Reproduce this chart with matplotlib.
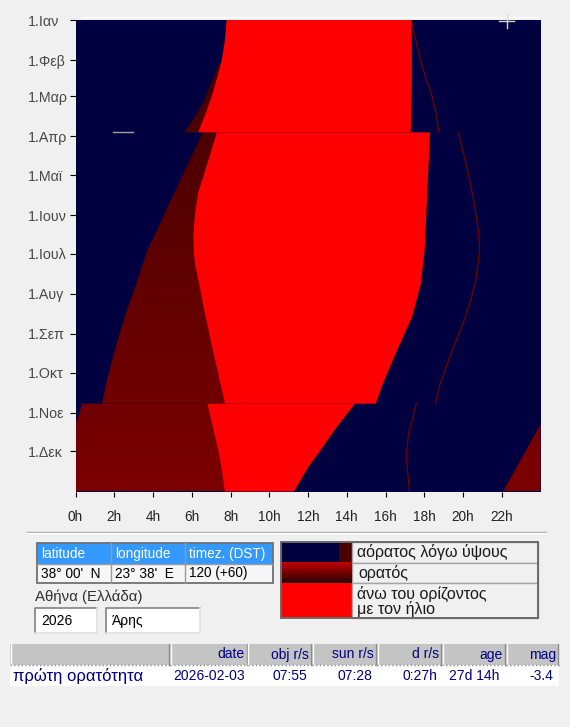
import numpy as np
import matplotlib
matplotlib.use("Agg")
from matplotlib import pyplot as plt
from matplotlib.patches import Polygon, Rectangle
from matplotlib.colors import LinearSegmentedColormap

# %%
# data : day of year 2026 (0 = 1 Jan) and local clock hour
month_days = [0, 31, 59, 90, 120, 151, 181, 212, 243, 273, 304, 334]
month_labels = ["1.Ιαν", "1.Φεβ", "1.Μαρ", "1.Απρ", "1.Μαϊ", "1.Ιουν",
                "1.Ιουλ", "1.Αυγ", "1.Σεπ", "1.Οκτ", "1.Νοε", "1.Δεκ"]
hour_ticks = list(range(0, 24, 2))
hour_labels = [str(h) + "h" for h in hour_ticks]

# winter time -> 29 Mar (day 87), summer time -> 25 Oct (day 297), winter time
sunrise_w1_d = [0, 15, 31, 45, 59, 73, 87]
sunrise_w1_h = [7.80, 7.72, 7.55, 7.30, 7.03, 6.70, 6.33]
sunrise_s_d = [87, 105, 120, 133, 151, 166, 181, 190, 204, 220, 237, 258, 273, 288, 297]
sunrise_s_h = [7.29, 6.93, 6.62, 6.34, 6.16, 6.08, 6.11, 6.18, 6.38, 6.58, 6.82, 7.12, 7.35, 7.58, 7.71]
sunrise_w2_d = [297, 304, 319, 334, 349, 365]
sunrise_w2_h = [6.80, 6.92, 7.15, 7.38, 7.56, 7.70]

# Mars set (right edge of the red area)
set_w1_d = [0, 20, 40, 60, 87]
set_w1_h = [17.35, 17.36, 17.37, 17.35, 17.30]
set_s_d = [87, 139, 160, 178, 204, 230, 256, 281, 297]
set_s_h = [18.30, 18.14, 18.08, 18.02, 17.83, 17.37, 16.59, 15.88, 15.50]
set_w2_d = [297, 310, 320, 330, 346, 365]
set_w2_h = [14.43, 13.75, 13.25, 12.80, 12.02, 11.28]

# start of visibility (left edge of the dark red area)
rise_w1_d = [33, 35, 48, 62, 75, 87]
rise_w1_h = [7.50, 7.38, 7.02, 6.65, 6.17, 5.60]
rise_s_d = [87, 110, 133, 155, 178, 204, 230, 256, 281, 297]
rise_s_h = [6.57, 5.85, 5.12, 4.45, 3.72, 3.14, 2.53, 2.02, 1.59, 1.37]
rise_w2_d = [297, 305, 313]
rise_w2_h = [0.35, 0.18, 0.0]
rise_eve_d = [313, 340, 365]
rise_eve_h = [24.0, 23.0, 22.07]

# sunset (thin line)
sunset_w1_d = [0, 15, 31, 45, 59, 73, 87]
sunset_w1_h = [17.33, 17.55, 17.80, 18.08, 18.40, 18.62, 18.76]
sunset_s_d = [87, 114, 139, 165, 178, 204, 230, 256, 281, 297]
sunset_s_h = [19.75, 20.21, 20.55, 20.81, 20.86, 20.64, 20.12, 19.44, 18.83, 18.57]
sunset_w2_d = [297, 310, 320, 338, 365]
sunset_w2_h = [17.59, 17.38, 17.19, 17.07, 17.24]

info_head = ["latitude", "longitude", "timez. (DST)"]
info_vals = ["38° 00'  N", "23° 38'  E", "120 (+60)"]
place = "Αθήνα (Ελλάδα)"
year_txt = "2026"
planet = "Άρης"
legend_txt = ["αόρατος λόγω ύψους", "ορατός", "άνω του ορίζοντος\nμε τον ήλιο"]
res_head = ["", "date", "obj r/s", "sun r/s", "d r/s", "age", "mag"]
res_vals = ["πρώτη ορατότητα", "2026-02-03", "07:55", "07:28", "0:27h", "27d 14h", "-3.4"]

# %%
NAVY = "#000040"
RED = "#ff0000"
BG = "#f0f0f0"
FONT = ["Liberation Sans", "DejaVu Sans"]
plt.rcParams["font.family"] = FONT
dark_cmap = LinearSegmentedColormap.from_list("dk", ["#3e0000", "#7c0000"])
leg_cmap = LinearSegmentedColormap.from_list("lg", ["#c00000", "#2a0000"])

W, H = 570, 727
fig = plt.figure(figsize=(W / 100, H / 100), dpi=100)
fig.patch.set_facecolor(BG)

ax = fig.add_axes([75.5 / W, 1 - 491.5 / H, 465 / W, 472 / H])
ax.set_facecolor(NAVY)


def pts(hs, ds):
    return list(zip(hs, ds))


# dark red (visible) areas, with a gradient along the year
x_end, d_end = 24, 365
grad = np.linspace(0, 1, 366).reshape(-1, 1)
vis_polys = [
    pts(rise_w1_h, rise_w1_d) + [p for p in pts(sunrise_w1_h, sunrise_w1_d)[::-1] if p[1] > rise_w1_d[0]],
    pts(rise_s_h, rise_s_d) + pts(sunrise_s_h, sunrise_s_d)[::-1],
    pts(rise_w2_h, rise_w2_d) + [(0, d_end)] + pts(sunrise_w2_h, sunrise_w2_d)[::-1],
    pts(rise_eve_h, rise_eve_d) + [(x_end, d_end)],
]
for poly in vis_polys:
    patch = Polygon(poly, closed=True, fc="none", ec="none")
    ax.add_patch(patch)
    im = ax.imshow(grad, extent=(0, x_end, d_end, 0), cmap=dark_cmap,
                   aspect="auto", origin="upper", zorder=1)
    im.set_clip_path(patch)

# sunset line
for hs, ds in [(sunset_w1_h, sunset_w1_d), (sunset_s_h, sunset_s_d), (sunset_w2_h, sunset_w2_d)]:
    ax.plot(hs, ds, color="#700000", lw=0.9, zorder=1.5)

# above horizon with the sun
for rh, rd, sh, sd in [(sunrise_w1_h, sunrise_w1_d, set_w1_h, set_w1_d),
                       (sunrise_s_h, sunrise_s_d, set_s_h, set_s_d),
                       (sunrise_w2_h, sunrise_w2_d, set_w2_h, set_w2_d)]:
    ax.add_patch(Polygon(pts(rh, rd) + pts(sh, sd)[::-1], closed=True,
                         fc=RED, ec="none", zorder=2))

ax.set_xlim(0, x_end)
ax.set_ylim(d_end, -0.4)
for s in ax.spines.values():
    s.set_visible(False)
ax.set_xticks(hour_ticks, hour_labels)
ax.set_yticks(month_days, month_labels)
ax.tick_params(axis="y", direction="out", length=4.3, width=0.8, color="black",
               pad=30.2, labelsize=10.3, labelcolor="#484848")
for lab in ax.get_yticklabels():
    lab.set_ha("left")
ax.tick_params(axis="x", direction="out", length=3.8, width=0.8, color="black",
               pad=9.5, labelsize=9.8, labelcolor="#222222")

# %%
# window controls below the chart (pixel coordinates)
ui = fig.add_axes([0, 0, 1, 1], zorder=5)
ui.set_xlim(0, W)
ui.set_ylim(H, 0)
ui.axis("off")
ui.patch.set_alpha(0)

ui.plot([83, 538], [17, 17], color="white", lw=1)
ui.plot([113, 133], [131.5, 131.5], color="#a0a0a0", lw=1)
ui.plot([499, 514], [21, 21], color="#d8d8c8", lw=1)
ui.plot([507, 507], [15, 28], color="#d8d8c8", lw=1)

ui.plot([27, 546], [532, 532], color="#a0a0a0", lw=1)
ui.plot([27, 546], [533, 533], color="white", lw=1)

# location table
cols = [37, 110.7, 185, 273]
ui.add_patch(Rectangle((37, 543), 236, 20.5, fc="#3399ff", ec="none"))
ui.add_patch(Rectangle((37, 563.5), 236, 19.5, fc="#f6f6f6", ec="none"))
for x in cols[1:-1]:
    ui.plot([x, x], [543, 583], color="#9a9a9a", lw=1)
ui.plot([37, 273], [563.5, 563.5], color="#9a9a9a", lw=1)
ui.add_patch(Rectangle((37, 543), 236, 40, fc="none", ec="#707070", lw=1.3))
for i in range(3):
    ui.text(cols[i] + 4, 554, info_head[i], color="white", fontsize=9.8, va="center")
    ui.text(cols[i] + 4, 573.5, info_vals[i], color="black", fontsize=9.8, va="center")

ui.text(35, 597, place, color="#303030", fontsize=10.8, va="center")
for x0, w, s in [(35, 62, year_txt), (106, 94, planet)]:
    ui.add_patch(Rectangle((x0, 608), w, 25, fc="white", ec="none"))
    ui.plot([x0, x0, x0 + w], [633, 608, 608], color="#828282", lw=1.2)
    ui.plot([x0, x0 + w, x0 + w], [633, 633, 608], color="#e0e0e0", lw=1.2)
    ui.text(x0 + 6, 621, s, color="black", fontsize=10, va="center")

# legend
rows = [542, 562.5, 583, 618]
ui.add_patch(Rectangle((281, 542), 58, 20.5, fc=NAVY, ec="none"))
ui.add_patch(Rectangle((339, 542), 13, 20.5, fc="#4a0000", ec="none"))
ui.imshow(np.linspace(0, 1, 50).reshape(-1, 1), extent=(281, 352, 583, 562.5),
          cmap=leg_cmap, aspect="auto", origin="upper", zorder=2)
ui.add_patch(Rectangle((281, 583), 71, 35, fc=RED, ec="none"))
for i in range(3):
    ui.add_patch(Rectangle((352, rows[i]), 186, rows[i + 1] - rows[i],
                           fc=BG, ec="#a4a4a4", lw=1))
ui.add_patch(Rectangle((281, 542), 257, 76, fc="none", ec="#6a6a6a", lw=1.4, zorder=3))
ui.text(357, 552.5, legend_txt[0], color="#1a1a1a", fontsize=11.5, va="center")
ui.text(358, 573, legend_txt[1], color="#1a1a1a", fontsize=11.5, va="center")
ui.text(357, 601.5, legend_txt[2], color="#1a1a1a", fontsize=11.5, va="center",
        linespacing=0.98)
ui.set_xlim(0, W)
ui.set_ylim(H, 0)

# result table
edges = [10, 170, 247.5, 312, 377, 442, 506, 559]
val_right = [None, 245, 307, 372, 437, 499, 553]
ui.add_patch(Rectangle((10, 665), 549, 21, fc="white", ec="none"))
for i in range(len(res_head)):
    a, b = edges[i], edges[i + 1]
    ui.add_patch(Rectangle((a, 644), b - a, 21, fc="#c4c4c4", ec="none"))
    ui.plot([a + 0.5, a + 0.5], [644, 665], color="white", lw=1)
    ui.plot([b - 1, b - 1], [644, 665], color="#8c8c8c", lw=1)
    ui.plot([a, b], [664.5, 664.5], color="#8c8c8c", lw=1, ls=":")
    ui.text(b - 3, 654.5, res_head[i], color="#000080", fontsize=10,
            ha="right", va="center")
    if i == 0:
        ui.text(13, 676, res_vals[0], color="#000080", fontsize=12, va="center")
    else:
        ui.text(val_right[i], 676, res_vals[i], color="#000080", fontsize=10,
                ha="right", va="center")

fig.savefig("out.png", dpi=100, facecolor=fig.get_facecolor())
